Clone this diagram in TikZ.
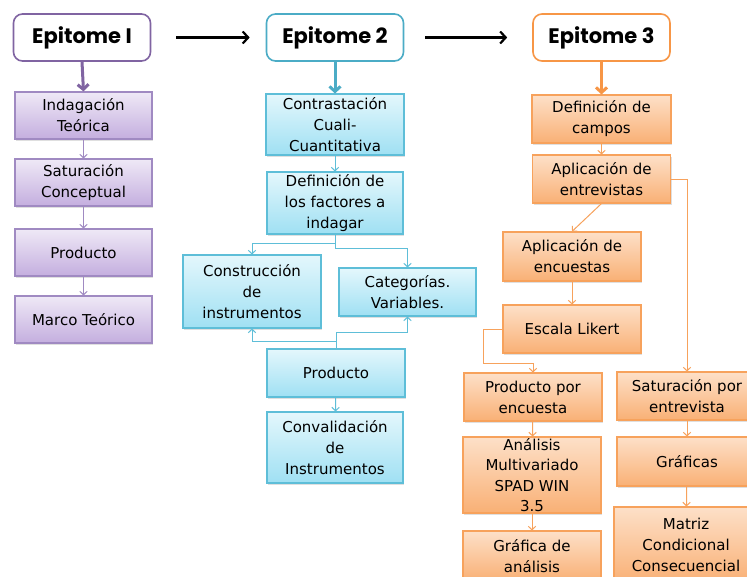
\documentclass[tikz,border=0pt]{standalone}
\usepackage{fontspec}
\newfontfamily\bodyfont{DejaVu Sans}
\newfontfamily\headfont{Poppins}
\usetikzlibrary{arrows.meta,shadows}
\definecolor{purpH}{HTML}{8064A2}
\definecolor{purpL}{HTML}{A08AC2}
\definecolor{purpT}{HTML}{EFE9F6}
\definecolor{purpD}{HTML}{C4AEDF}
\definecolor{blueH}{HTML}{4BACC6}
\definecolor{blueL}{HTML}{5EBED8}
\definecolor{blueT}{HTML}{E4F7FC}
\definecolor{blueD}{HTML}{9FE0F3}
\definecolor{orH}{HTML}{F79646}
\definecolor{orL}{HTML}{F7A25C}
\definecolor{orT}{HTML}{FDE0C8}
\definecolor{orD}{HTML}{F9B075}
\begin{document}
\begin{tikzpicture}[x=1pt,y=-1pt,
  box/.style={draw, line width=1.1pt, inner sep=0pt, align=center,
    font=\bodyfont\fontsize{15}{21}\selectfont,
    drop shadow={opacity=0.25,shadow xshift=1.2pt,shadow yshift=-1.5pt}},
  pbox/.style={box, draw=purpL, top color=purpT, bottom color=purpD},
  bbox/.style={box, draw=blueL, top color=blueT, bottom color=blueD},
  obox/.style={box, draw=orL, top color=orT, bottom color=orD},
  head/.style={draw, rounded corners=9pt, fill=white, line width=1.6pt,
    minimum width=137pt, minimum height=47pt, inner sep=0pt,
    font=\headfont\bfseries\fontsize{21}{24}\selectfont},
  conn/.style={line width=1pt, -{Straight Barb[length=3.5pt,width=7.5pt]}},
  bigarrow/.style={line width=3pt, -{Straight Barb[length=5pt,width=11pt]}},
  blackarrow/.style={line width=2.2pt, black, -{Straight Barb[length=5.5pt,width=12pt]}},
  lbl/.style={align=center, inner sep=0pt, font=\bodyfont\fontsize{15}{20.5}\selectfont}
]
\useasboundingbox (0,0) rectangle (747,576);
\fill[white] (0,0) rectangle (747,576);

% headers
\node[head, draw=purpH] (e1) at (82,37.5) {Epitome I};
\node[head, draw=blueH] (e2) at (335,37.5) {Epitome 2};
\node[head, draw=orH] (e3) at (601.5,37.5) {Epitome 3};
\draw[blackarrow, shorten <=25pt, shorten >=16pt] (e1) -- (e2);
\draw[blackarrow, shorten <=21pt, shorten >=25pt] (e2) -- (e3);

% column 1
\node[pbox, minimum width=137pt, minimum height=47pt] (i1) at (83.5,115.5) {Indagación\\Teórica};
\node[pbox, minimum width=137pt, minimum height=47pt] (s1) at (83.5,182.5) {Saturación\\Conceptual};
\node[pbox, minimum width=137pt, minimum height=47pt] (p1) at (83.5,252.5) {Producto};
\node[pbox, minimum width=137pt, minimum height=47pt] (m1) at (83.5,319.5) {Marco Teórico};
\draw[bigarrow, purpH] (e1.south) -- (i1.north);
\draw[conn, purpL] (i1) -- (s1);
\draw[conn, purpL] (s1) -- (p1);
\draw[conn, purpL] (p1) -- (m1);

% column 2
\node[bbox, minimum width=138pt, minimum height=61pt] (c2) at (335,124.5) {Contrastación\\Cuali-\\Cuantitativa};
\node[bbox, minimum width=136pt, minimum height=62pt] (d2) at (335,203) {Definición de\\los factores a\\indagar};
\node[bbox, minimum width=138pt, minimum height=73pt] (k2) at (252,291.5) {Construcción\\de\\instrumentos};
\node[bbox, minimum width=137pt, minimum height=48pt] (v2) at (407.5,292) {Categorías.\\Variables.};
\node[bbox, minimum width=138pt, minimum height=48pt] (p2) at (336,373) {Producto};
\node[bbox, minimum width=136pt, minimum height=71pt] (v3) at (335,447.5) {Convalidación\\de\\Instrumentos};
\draw[bigarrow, blueH] (e2.south) -- (c2.north);
\draw[conn, blueL] (c2) -- (d2);
\coordinate (dl) at (335,243);
\coordinate (dr) at (335,248);
\draw[conn, blueL] (d2.south) -- (dl) -| (k2.north);
\draw[conn, blueL] (dl) -- (dr) -| (v2.north);
\coordinate (pl) at (336,341);
\coordinate (pr) at (336,332);
\draw[conn, blueL, {Straight Barb[length=3.5pt,width=7.5pt]}-] (k2.south) |- (pl) -- (p2.north);
\draw[conn, blueL, {Straight Barb[length=3.5pt,width=7.5pt]}-] (v2.south) |- (pr) -- (p2.north);
\draw[conn, blueL] (p2) -- (v3);

% column 3
\node[obox, minimum width=139pt, minimum height=48pt] (dc) at (601.5,119) {Definición de\\campos};
\node[obox, minimum width=138pt, minimum height=48pt] (ae) at (601.5,179) {Aplicación de\\entrevistas};
\node[obox, minimum width=138pt, minimum height=49pt] (ac) at (572,256.5) {Aplicación de\\encuestas};
\node[obox, minimum width=138pt, minimum height=48pt] (el) at (572,329) {Escala Likert};
\node[obox, minimum width=138pt, minimum height=48pt] (pe) at (533,397) {Producto por\\encuesta};
\node[obox, minimum width=138pt, minimum height=76pt,
  label={[lbl]center:Análisis\\Multivariado\\SPAD WIN\\3.5}] (an) at (532,475) {};
\node[obox, minimum width=138pt, minimum height=50pt] (gr) at (532,556) {Gráfica de\\análisis};
\node[obox, minimum width=140pt, minimum height=48pt] (sat) at (687,396) {Saturación por\\entrevista};
\node[obox, minimum width=140pt, minimum height=49pt] (gf) at (687,461.5) {Gráficas};
\node[obox, minimum width=144pt, minimum height=76pt] (mx) at (686,545) {Matriz\\Condicional\\Consecuencial};
\draw[bigarrow, orH] (e3.south) -- (dc.north);
\draw[conn, orL] (dc) -- (ae);
\draw[conn, orL] (ae.south) -- (ac.north);
\draw[conn, orL] (ae.east) -| (sat.north);
\draw[conn, orL] (ac) -- (el);
\coordinate (lk) at (483,363);
\draw[conn, orL] (el.west) -| (lk) -| (pe.north);
\draw[conn, orL] (pe) -- (an);
\draw[conn, orL] (an) -- (gr);
\draw[conn, orL] (sat) -- (gf);
\draw[conn, orL] (gf) -- (mx);
\end{tikzpicture}
\end{document}
